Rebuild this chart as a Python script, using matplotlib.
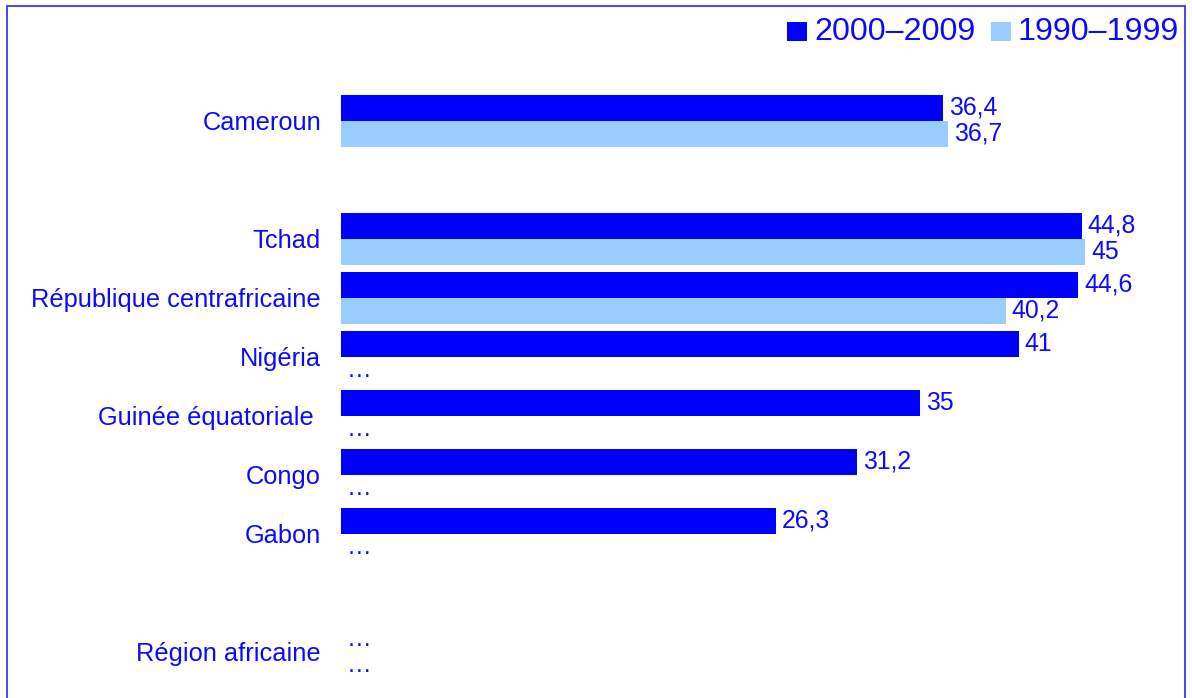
import matplotlib
matplotlib.use("Agg")
import matplotlib.pyplot as plt
from matplotlib.patches import Rectangle

plt.rcParams['font.family'] = ['Liberation Sans', 'DejaVu Sans']

categories = ["Cameroun", "", "Tchad", "République centrafricaine", "Nigéria",
              "Guinée équatoriale ", "Congo", "Gabon", "", "Région africaine"]
series_2000 = [36.4, None, 44.8, 44.6, 41, 35, 31.2, 26.3, None, None]
series_1990 = [36.7, None, 45, 40.2, None, None, None, None, None, None]
series_names = ["2000–2009", "1990–1999"]

DARK = '#0000ff'
LIGHT = '#99ccff'
TXT = '#0a0aff'
W, H = 1192, 698

fig = plt.figure(figsize=(W / 100, H / 100), dpi=100)
ax = fig.add_axes([341 / W, 0, 744 / W, 1 - 62 / H])
ax.set_xlim(0, 45)
ax.set_ylim(9.78, -1)

bh = 26 / 59
for i, cat in enumerate(categories):
    if cat == "":
        continue
    for v, off, col in ((series_2000[i], -bh / 2, DARK), (series_1990[i], bh / 2, LIGHT)):
        y = i + off
        if v is None:
            ax.annotate("…", xy=(0, y), xytext=(6, 0), textcoords='offset pixels',
                        va='center', ha='left', fontsize=17.8, color=TXT)
        else:
            ax.barh(y, v, height=bh, color=col, linewidth=0)
            lab = f"{v:g}".replace('.', ',')
            ax.annotate(lab, xy=(v, y), xytext=(6, 0), textcoords='offset pixels',
                        va='center', ha='left', fontsize=17.8, color=TXT)

ticks = [i for i, c in enumerate(categories) if c]
ax.set_yticks(ticks)
ax.set_yticklabels([categories[i] for i in ticks], fontsize=18.3, color=TXT)
ax.tick_params(axis='y', length=0, pad=14.4)
ax.set_xticks([])
for s in ax.spines.values():
    s.set_visible(False)
ax.patch.set_visible(False)

# frame
fig.add_artist(Rectangle((6.5 / W, -0.02), (1184.5 - 6.5) / W, 1.02 - 5.5 / H,
                         transform=fig.transFigure, fill=False, ec='#3535ff', lw=1.3))

# legend
def px(x, y):
    return x / W, 1 - y / H

for (x0, col, name) in ((787, DARK, series_names[0]), (991, LIGHT, series_names[1])):
    fx, fy = px(x0, 41)
    fig.add_artist(Rectangle((fx, fy), 20 / W, 19 / H, transform=fig.transFigure,
                             color=col, lw=0))
    tx, ty = px(x0 + 27, 31.5)
    fig.text(tx, ty, name, fontsize=23.2, color=TXT, va='center', ha='left')

fig.savefig("out.png", dpi=100)
